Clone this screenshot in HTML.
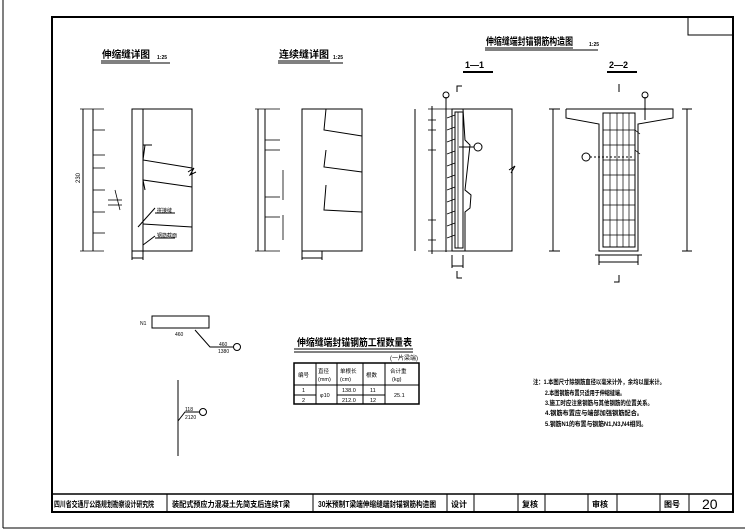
<!DOCTYPE html>
<html><head><meta charset="utf-8"><style>
html,body{margin:0;padding:0;background:#fff}
svg{display:block}
text{font-family:"Liberation Sans","Noto Sans CJK SC",sans-serif;fill:#000}
</style></head><body>
<svg width="749" height="530" viewBox="0 0 749 530" xmlns="http://www.w3.org/2000/svg" stroke="#000" fill="none" stroke-width="1">
<rect x="0" y="0" width="749" height="530" fill="#fff" stroke="none"/>
<line x1="3" y1="0" x2="3" y2="528"/><line x1="3" y1="528" x2="745" y2="528"/>
<rect x="52" y="17" width="681" height="495" stroke-width="2"/>
<rect x="688" y="17" width="45" height="18"/>
<line x1="52" y1="494" x2="733" y2="494" stroke-width="1.5"/>
<g stroke-width="1">
<line x1="167" y1="494" x2="167" y2="512"/><line x1="313" y1="494" x2="313" y2="512"/>
<line x1="447" y1="494" x2="447" y2="512"/><line x1="474" y1="494" x2="474" y2="512"/>
<line x1="518" y1="494" x2="518" y2="512"/><line x1="545" y1="494" x2="545" y2="512"/>
<line x1="588" y1="494" x2="588" y2="512"/><line x1="617" y1="494" x2="617" y2="512"/>
<line x1="660" y1="494" x2="660" y2="512"/><line x1="689" y1="494" x2="689" y2="512"/>
</g>
<g stroke="none" font-size="8" font-weight="bold">
<text x="54" y="507" textLength="100" lengthAdjust="spacingAndGlyphs">四川省交通厅公路规划勘察设计研究院</text>
<text x="172" y="507" textLength="118" lengthAdjust="spacingAndGlyphs">装配式预应力混凝土先简支后连续T梁</text>
<text x="318" y="507" textLength="118" lengthAdjust="spacingAndGlyphs">30米预制T梁端伸缩缝端封锚钢筋构造图</text>
<text x="451" y="507">设计</text><text x="522" y="507">复核</text>
<text x="592" y="507">审核</text><text x="664" y="507">图号</text>
<text x="702" y="509" font-size="14" font-weight="normal">20</text>
</g>
<g stroke="none" font-size="10" font-weight="bold">
<text x="102" y="58" textLength="48" lengthAdjust="spacingAndGlyphs">伸缩缝详图</text><text x="157" y="59" font-size="5">1:25</text>
<text x="279" y="58" textLength="50" lengthAdjust="spacingAndGlyphs">连续缝详图</text><text x="333" y="59" font-size="5">1:25</text>
<text x="486" y="45" textLength="87" lengthAdjust="spacingAndGlyphs">伸缩缝端封锚钢筋构造图</text><text x="589" y="46" font-size="5">1:25</text>
<text x="465" y="68" font-size="9">1—1</text><text x="609" y="68" font-size="9">2—2</text>
</g>
<line x1="101" y1="61" x2="150" y2="61"/><line x1="101" y1="63" x2="170" y2="63"/>
<line x1="278" y1="61" x2="330" y2="61"/><line x1="278" y1="63" x2="343" y2="63"/>
<line x1="485" y1="48" x2="573" y2="48"/><line x1="485" y1="50" x2="598" y2="50"/>
<line x1="463" y1="72" x2="493" y2="72" stroke-width="2"/><line x1="607" y1="72" x2="637" y2="72" stroke-width="2"/>

<line x1="83" y1="109" x2="83" y2="251"/>
<line x1="93" y1="109" x2="93" y2="251"/>
<g stroke-width="0.8">
<line x1="80" y1="109" x2="104" y2="109"/><line x1="80" y1="251" x2="104" y2="251"/>
<line x1="93" y1="130" x2="105" y2="130"/><line x1="93" y1="155" x2="105" y2="155"/>
<line x1="93" y1="168" x2="105" y2="168"/><line x1="93" y1="190" x2="105" y2="190"/>
<line x1="93" y1="212" x2="105" y2="212"/><line x1="93" y1="233" x2="105" y2="233"/>
<line x1="115" y1="190" x2="120" y2="210"/><line x1="108" y1="200" x2="122" y2="200"/><line x1="108" y1="205" x2="122" y2="205"/>
</g>
<rect x="132" y="109" width="60" height="142"/>
<line x1="143" y1="109" x2="143" y2="251"/>
<line x1="143" y1="145" x2="152" y2="145"/>
<polyline points="145,145 143,160 192,168"/>
<polyline points="145,190 143,180 192,187"/>
<line x1="143" y1="224" x2="192" y2="227"/>
<line x1="138" y1="227" x2="155" y2="208"/><line x1="155" y1="213" x2="175" y2="213"/>
<line x1="143" y1="245" x2="155" y2="236"/><line x1="155" y1="238" x2="175" y2="238"/>
<line x1="132" y1="251" x2="132" y2="260"/><line x1="143" y1="251" x2="143" y2="260"/><line x1="132" y1="258" x2="143" y2="258"/>
<polyline points="188,172 194,168 190,175 196,172"/>
<g stroke="none" font-size="5"><text x="157" y="212">拼接缝</text><text x="157" y="237">钢筋截面</text>
<text x="80" y="183" font-size="6" transform="rotate(-90 80 183)">230</text></g>

<line x1="258" y1="109" x2="258" y2="251"/><line x1="265" y1="109" x2="265" y2="251"/>
<g stroke-width="0.8">
<line x1="255" y1="109" x2="280" y2="109"/><line x1="255" y1="251" x2="280" y2="251"/>
<line x1="265" y1="140" x2="280" y2="140"/><line x1="265" y1="150" x2="280" y2="150"/>
<line x1="265" y1="197" x2="280" y2="197"/><line x1="265" y1="217" x2="280" y2="217"/>
<line x1="283" y1="170" x2="283" y2="200"/><line x1="283" y1="215" x2="283" y2="240"/>
</g>
<rect x="302" y="109" width="60" height="142"/>
<polyline points="326,109 324,130 362,136"/>
<polyline points="326,150 324,167 362,172"/>
<polyline points="326,185 324,210 362,212"/>
<line x1="302" y1="251" x2="302" y2="260"/><line x1="322" y1="251" x2="322" y2="260"/><line x1="302" y1="258" x2="322" y2="258"/>

<line x1="415" y1="109" x2="415" y2="251"/><line x1="432" y1="106" x2="432" y2="254"/>
<g stroke-width="0.8">
<line x1="428" y1="109" x2="452" y2="109"/><line x1="428" y1="251" x2="452" y2="251"/>
<line x1="428" y1="120" x2="436" y2="120"/><line x1="428" y1="130" x2="436" y2="130"/>
<line x1="428" y1="150" x2="436" y2="150"/><line x1="428" y1="220" x2="436" y2="220"/>
<line x1="428" y1="240" x2="436" y2="240"/>
</g>
<rect x="452" y="109" width="60" height="142"/>
<rect x="455" y="112" width="8" height="136"/>
<polyline points="463,109 465,140 470,145 465,190 471,195 470,208 465,212 465,251"/>
<g stroke-width="0.7">
<line x1="447" y1="118" x2="455" y2="115"/><line x1="447" y1="130" x2="455" y2="127"/>
<line x1="447" y1="142" x2="455" y2="139"/><line x1="447" y1="154" x2="455" y2="151"/>
<line x1="447" y1="166" x2="455" y2="163"/><line x1="447" y1="178" x2="455" y2="175"/>
<line x1="447" y1="190" x2="455" y2="187"/><line x1="447" y1="202" x2="455" y2="199"/>
<line x1="447" y1="214" x2="455" y2="211"/><line x1="447" y1="226" x2="455" y2="223"/>
<line x1="447" y1="238" x2="455" y2="235"/>
<line x1="458" y1="112" x2="458" y2="248"/>
</g>
<line x1="446" y1="97" x2="446" y2="252"/><circle cx="446" cy="95" r="3"/>
<line x1="459" y1="147" x2="474" y2="147"/><circle cx="478" cy="147" r="4"/>
<polyline points="457,92 457,86 462,86"/><polyline points="457,271 457,278 462,278"/>
<line x1="452" y1="255" x2="452" y2="268"/><line x1="463" y1="255" x2="463" y2="268"/><line x1="452" y1="266" x2="463" y2="266"/>
<polyline points="509,170 515,166 511,173"/>

<line x1="553" y1="109" x2="553" y2="251"/><line x1="549" y1="109" x2="560" y2="109"/><line x1="549" y1="251" x2="560" y2="251"/>
<polyline points="566,109 673,109 673,118 638,124 638,251 599,251 599,124 566,118 566,109"/>
<rect x="603" y="113" width="32" height="134"/>
<g stroke-width="0.7">
<line x1="610" y1="113" x2="610" y2="247"/><line x1="617" y1="113" x2="617" y2="247"/>
<line x1="623" y1="113" x2="623" y2="247"/><line x1="629" y1="113" x2="629" y2="247"/>
<line x1="603" y1="130" x2="635" y2="130"/><line x1="603" y1="145" x2="635" y2="145"/>
<line x1="603" y1="160" x2="635" y2="160"/><line x1="603" y1="175" x2="635" y2="175"/>
<line x1="603" y1="190" x2="635" y2="190"/><line x1="603" y1="205" x2="635" y2="205"/>
<line x1="603" y1="220" x2="635" y2="220"/><line x1="603" y1="235" x2="635" y2="235"/>
<line x1="635" y1="130" x2="640" y2="134"/><line x1="635" y1="150" x2="640" y2="154"/>
</g>
<line x1="590" y1="157" x2="633" y2="157" stroke-dasharray="2,2"/><circle cx="586" cy="157" r="4"/>
<line x1="645" y1="97" x2="645" y2="120"/><circle cx="645" cy="95" r="3"/>
<line x1="687" y1="109" x2="687" y2="251"/><line x1="682" y1="109" x2="692" y2="109"/><line x1="682" y1="251" x2="692" y2="251"/>
<line x1="599" y1="262" x2="638" y2="262"/><line x1="599" y1="255" x2="599" y2="265"/><line x1="638" y1="255" x2="638" y2="265"/>
<line x1="595" y1="255" x2="642" y2="255"/>
<polyline points="619,84 619,92"/><polyline points="619,275 619,282 614,282"/>

<rect x="152" y="316" width="57" height="12"/>
<polyline points="195,330 210,347 233,347"/><circle cx="237" cy="347" r="3.5"/>
<line x1="178" y1="380" x2="178" y2="456"/>
<polyline points="178,421 185,412 200,412"/><circle cx="203" cy="412" r="3.5"/>
<g stroke="none" font-size="5"><text x="140" y="325">N1</text><text x="175" y="336">460</text><text x="219" y="346">460</text><text x="218" y="353">1380</text>
<text x="185" y="411">118</text><text x="185" y="419">2120</text></g>

<g stroke="none" font-size="10" font-weight="bold"><text x="297" y="346" textLength="115" lengthAdjust="spacingAndGlyphs">伸缩缝端封锚钢筋工程数量表</text>
<text x="390" y="360" font-size="6" font-weight="normal">(一片梁端)</text></g>
<line x1="294" y1="349" x2="413" y2="349"/><line x1="294" y1="352" x2="413" y2="352"/>
<rect x="294" y="363" width="125" height="41" stroke-width="1.5"/>
<line x1="294" y1="385" x2="419" y2="385"/><line x1="294" y1="395" x2="316" y2="395"/><line x1="337" y1="395" x2="385" y2="395"/>
<line x1="316" y1="363" x2="316" y2="404"/><line x1="337" y1="363" x2="337" y2="404"/>
<line x1="363" y1="363" x2="363" y2="404"/><line x1="385" y1="363" x2="385" y2="404"/>
<g stroke="none" font-size="5.5"><text x="298" y="377">编号</text><text x="318" y="373">直径</text><text x="318" y="381">(mm)</text>
<text x="340" y="373">单根长</text><text x="340" y="381">(cm)</text><text x="366" y="377">根数</text><text x="390" y="373">合计重</text><text x="392" y="381">(kg)</text>
<text x="302" y="392">1</text><text x="302" y="402">2</text><text x="320" y="397">φ10</text>
<text x="342" y="392">138.0</text><text x="342" y="402">212.0</text><text x="370" y="392">11</text><text x="370" y="402">12</text><text x="394" y="397">25.1</text></g>

<g stroke="none" font-size="6.5" font-weight="bold"><text x="533" y="384" textLength="132" lengthAdjust="spacingAndGlyphs">注：1.本图尺寸除钢筋直径以毫米计外，余均以厘米计。</text>
<text x="545" y="395" textLength="80" lengthAdjust="spacingAndGlyphs">2.本图钢筋布置只适用于伸缩缝端。</text>
<text x="545" y="405" textLength="108" lengthAdjust="spacingAndGlyphs">3.施工时应注意钢筋与其他钢筋的位置关系。</text>
<text x="545" y="415" textLength="98" lengthAdjust="spacingAndGlyphs">4.钢筋布置应与端部加强钢筋配合。</text>
<text x="545" y="426" textLength="102" lengthAdjust="spacingAndGlyphs">5.钢筋N1的布置与钢筋N1,N3,N4相同。</text></g>
</svg>
</body></html>
